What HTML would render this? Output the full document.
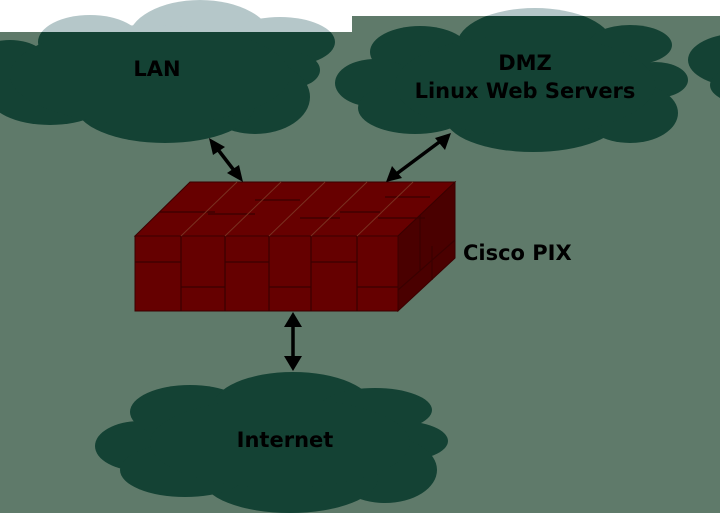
<!DOCTYPE html>
<html><head><style>html,body{margin:0;padding:0;background:#fff;}svg{display:block}</style></head>
<body>
<svg width="720" height="513" viewBox="0 0 720 513" xmlns="http://www.w3.org/2000/svg">
<defs>
<clipPath id="g"><polygon points="0,32 352,32 352,16 720,16 720,513 0,513"/></clipPath>
<clipPath id="w"><polygon points="0,0 720,0 720,16 352,16 352,32 0,32"/></clipPath>
<g id="clouds">
 <ellipse cx="90" cy="42" rx="52" ry="27"/>
 <ellipse cx="200" cy="40" rx="72" ry="40"/>
 <ellipse cx="280" cy="42" rx="55" ry="25"/>
 <ellipse cx="290" cy="70" rx="30" ry="18"/>
 <ellipse cx="255" cy="97" rx="55" ry="37"/>
 <ellipse cx="165" cy="105" rx="90" ry="38"/>
 <ellipse cx="50" cy="95" rx="62" ry="30"/>
 <ellipse cx="10" cy="65" rx="40" ry="25"/>
 <ellipse cx="150" cy="75" rx="140" ry="50"/>
 <ellipse cx="535" cy="45" rx="78" ry="37"/>
 <ellipse cx="420" cy="52" rx="50" ry="26"/>
 <ellipse cx="630" cy="45" rx="42" ry="20"/>
 <ellipse cx="655" cy="80" rx="33" ry="18"/>
 <ellipse cx="375" cy="83" rx="40" ry="24"/>
 <ellipse cx="415" cy="108" rx="57" ry="26"/>
 <ellipse cx="533" cy="117" rx="88" ry="35"/>
 <ellipse cx="630" cy="113" rx="48" ry="30"/>
 <ellipse cx="525" cy="85" rx="130" ry="50"/>
 <ellipse cx="742" cy="60" rx="54" ry="27"/>
 <ellipse cx="752" cy="85" rx="42" ry="20"/>
</g>
</defs>
<g clip-path="url(#w)" fill="#b5c7c9"><use href="#clouds"/></g>
<g clip-path="url(#g)">
<rect x="0" y="0" width="720" height="513" fill="#5f7a6a"/>
<g fill="#144234"><use href="#clouds"/></g>
</g>
<g fill="#144234">
 <ellipse cx="140" cy="446" rx="45" ry="25"/>
 <ellipse cx="190" cy="412" rx="60" ry="27"/>
 <ellipse cx="293" cy="407" rx="80" ry="35"/>
 <ellipse cx="375" cy="410" rx="57" ry="22"/>
 <ellipse cx="400" cy="441" rx="48" ry="20"/>
 <ellipse cx="385" cy="470" rx="52" ry="33"/>
 <ellipse cx="290" cy="478" rx="88" ry="35"/>
 <ellipse cx="185" cy="470" rx="65" ry="27"/>
 <ellipse cx="280" cy="443" rx="130" ry="45"/>
</g>
<g stroke="#3a0000" stroke-width="1">
 <polygon points="135,236 398,236 455,182 190,182" fill="#670000"/>
 <polygon points="398,236 455,182 455,258 398,311" fill="#4a0000"/>
 <rect x="135" y="236" width="263" height="75" fill="#650000"/>
</g>
<g stroke="#3a0000" stroke-width="1.2" fill="none">
 <path d="M181,236V311M225,236V311M269,236V311M311,236V311M357,236V311"/>
 <path d="M135,262H181M225,262H269M311,262H357"/>
 <path d="M181,287H225M269,287H311M357,287H398"/>
 <path d="M398,290L455,240M432,246V280M420,215V270"/>
 <path d="M160,212H215M208,214H255M255,200H300M300,218H340M340,212H380M378,218H425M385,197H430"/>
</g>
<g stroke="#7a3020" stroke-width="1" fill="none">
 <path d="M181,236L237,182M225,236L281,182M269,236L325,182M311,236L367,182M357,236L413,182"/>
</g>
<g stroke="#000" stroke-width="3.5" fill="#000">
 <line x1="216" y1="147" x2="236" y2="173"/>
 <line x1="442" y1="140" x2="395" y2="175"/>
 <line x1="293" y1="322" x2="293" y2="361"/>
</g>
<g fill="#000">
 <polygon points="209,138 225,147 213,155"/>
 <polygon points="243,182 227,173 239,165"/>
 <polygon points="451,133 445,150 435,138"/>
 <polygon points="386,182 392,166 402,178"/>
 <polygon points="293,312 302,327 284,327"/>
 <polygon points="293,371 302,356 284,356"/>
</g>
<g font-family="'DejaVu Sans','Liberation Sans',sans-serif" font-weight="bold" font-size="21" fill="#000">
 <text x="157" y="76" text-anchor="middle">LAN</text>
 <text x="525" y="70" text-anchor="middle">DMZ</text>
 <text x="525" y="98" text-anchor="middle">Linux Web Servers</text>
 <text x="463" y="260">Cisco PIX</text>
 <text x="285" y="447" text-anchor="middle">Internet</text>
</g>
</svg>
</body></html>
